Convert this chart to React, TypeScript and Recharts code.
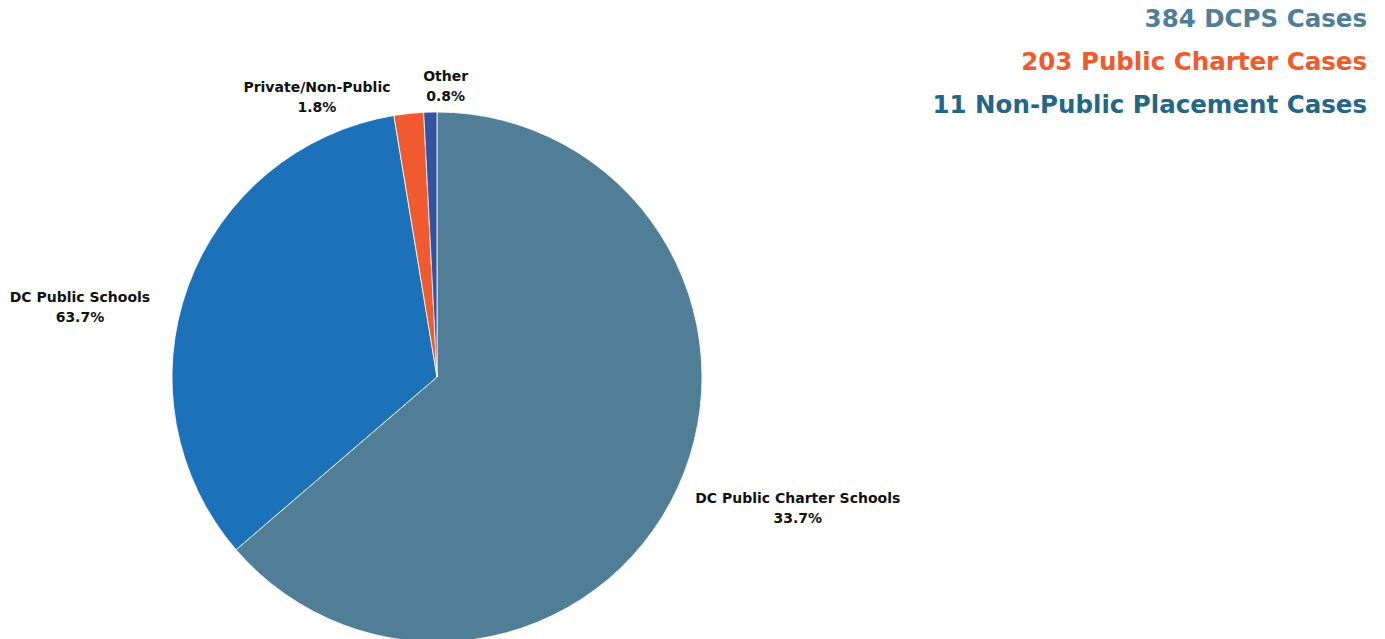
import { PieChart, Pie, Cell } from "recharts";

const categories = ["DC Public Charter Schools", "DC Public Schools", "Private/Non-Public", "Other"];
const shares = [63.7, 33.7, 1.8, 0.8];
// the labels shown in the original picture (as printed)
const labelPercents = ["33.7%", "63.7%", "1.8%", "0.8%"];
const sliceColors = ["#4F7E96", "#1C71B8", "#F15A2E", "#3553A0"];

const headlineTexts = ["384 DCPS Cases", "203 Public Charter Cases", "11 Non-Public Placement Cases"];
const headlineColors = ["#4F7E96", "#F15A2B", "#236685"];

const data = categories.map((name, i) => ({ name, value: shares[i], pct: labelPercents[i] }));

const FONT = "'DejaVu Sans', 'Noto Sans', sans-serif";
const RAD = Math.PI / 180;

const renderLabel = (props: any) => {
  const { cx, cy, midAngle, outerRadius, payload, index } = props;
  const r = outerRadius + 28;
  const cos = Math.cos(-midAngle * RAD);
  const sin = Math.sin(-midAngle * RAD);
  const x = cx + r * cos;
  const y = cy + r * sin;
  const name: string = payload.name;
  const w = Math.max(name.length, 5) * 8.2;
  let tx = x;
  let ty = y;
  if (cos > 0.3) {
    tx = x + w / 2 - 8;
    ty = y + 4;
  } else if (cos < -0.3) {
    tx = x - w / 2 - 12;
    ty = y + 25;
  } else if (cos < -0.05) {
    tx = x - w / 2 - 15;
    ty = y + 6;
  } else {
    tx = x + 16;
    ty = y - 3;
  }
  return (
    <text
      key={`lbl-${index}`}
      x={tx}
      y={ty}
      textAnchor="middle"
      fill="#111"
      fontFamily={FONT}
      fontWeight={700}
      fontSize={14}
    >
      <tspan x={tx} dy={0}>{name}</tspan>
      <tspan x={tx} dy={20}>{payload.pct}</tspan>
    </text>
  );
};

export default function App() {
  return (
    <div style={{ position: "absolute", left: 0, top: 0, width: 1385, height: 639, background: "#fff", overflow: "hidden" }}>
      <PieChart width={1385} height={639} margin={{ top: 0, right: 0, bottom: 0, left: 0 }}>
        <Pie
          data={data}
          dataKey="value"
          nameKey="name"
          cx={437}
          cy={377}
          outerRadius={265}
          startAngle={90}
          endAngle={-270}
          stroke="#ffffff"
          strokeWidth={0.8}
          label={renderLabel}
          labelLine={false}
          isAnimationActive={false}
        >
          {data.map((d, i) => (
            <Cell key={d.name} fill={sliceColors[i]} />
          ))}
        </Pie>
      </PieChart>
      {headlineTexts.map((t, i) => (
        <div
          key={t}
          style={{
            position: "absolute",
            right: 18,
            top: 2 + i * 43,
            color: headlineColors[i],
            fontFamily: FONT,
            fontWeight: 700,
            fontSize: 24.5,
            lineHeight: "34px",
            whiteSpace: "nowrap",
          }}
        >
          {t}
        </div>
      ))}
    </div>
  );
}
